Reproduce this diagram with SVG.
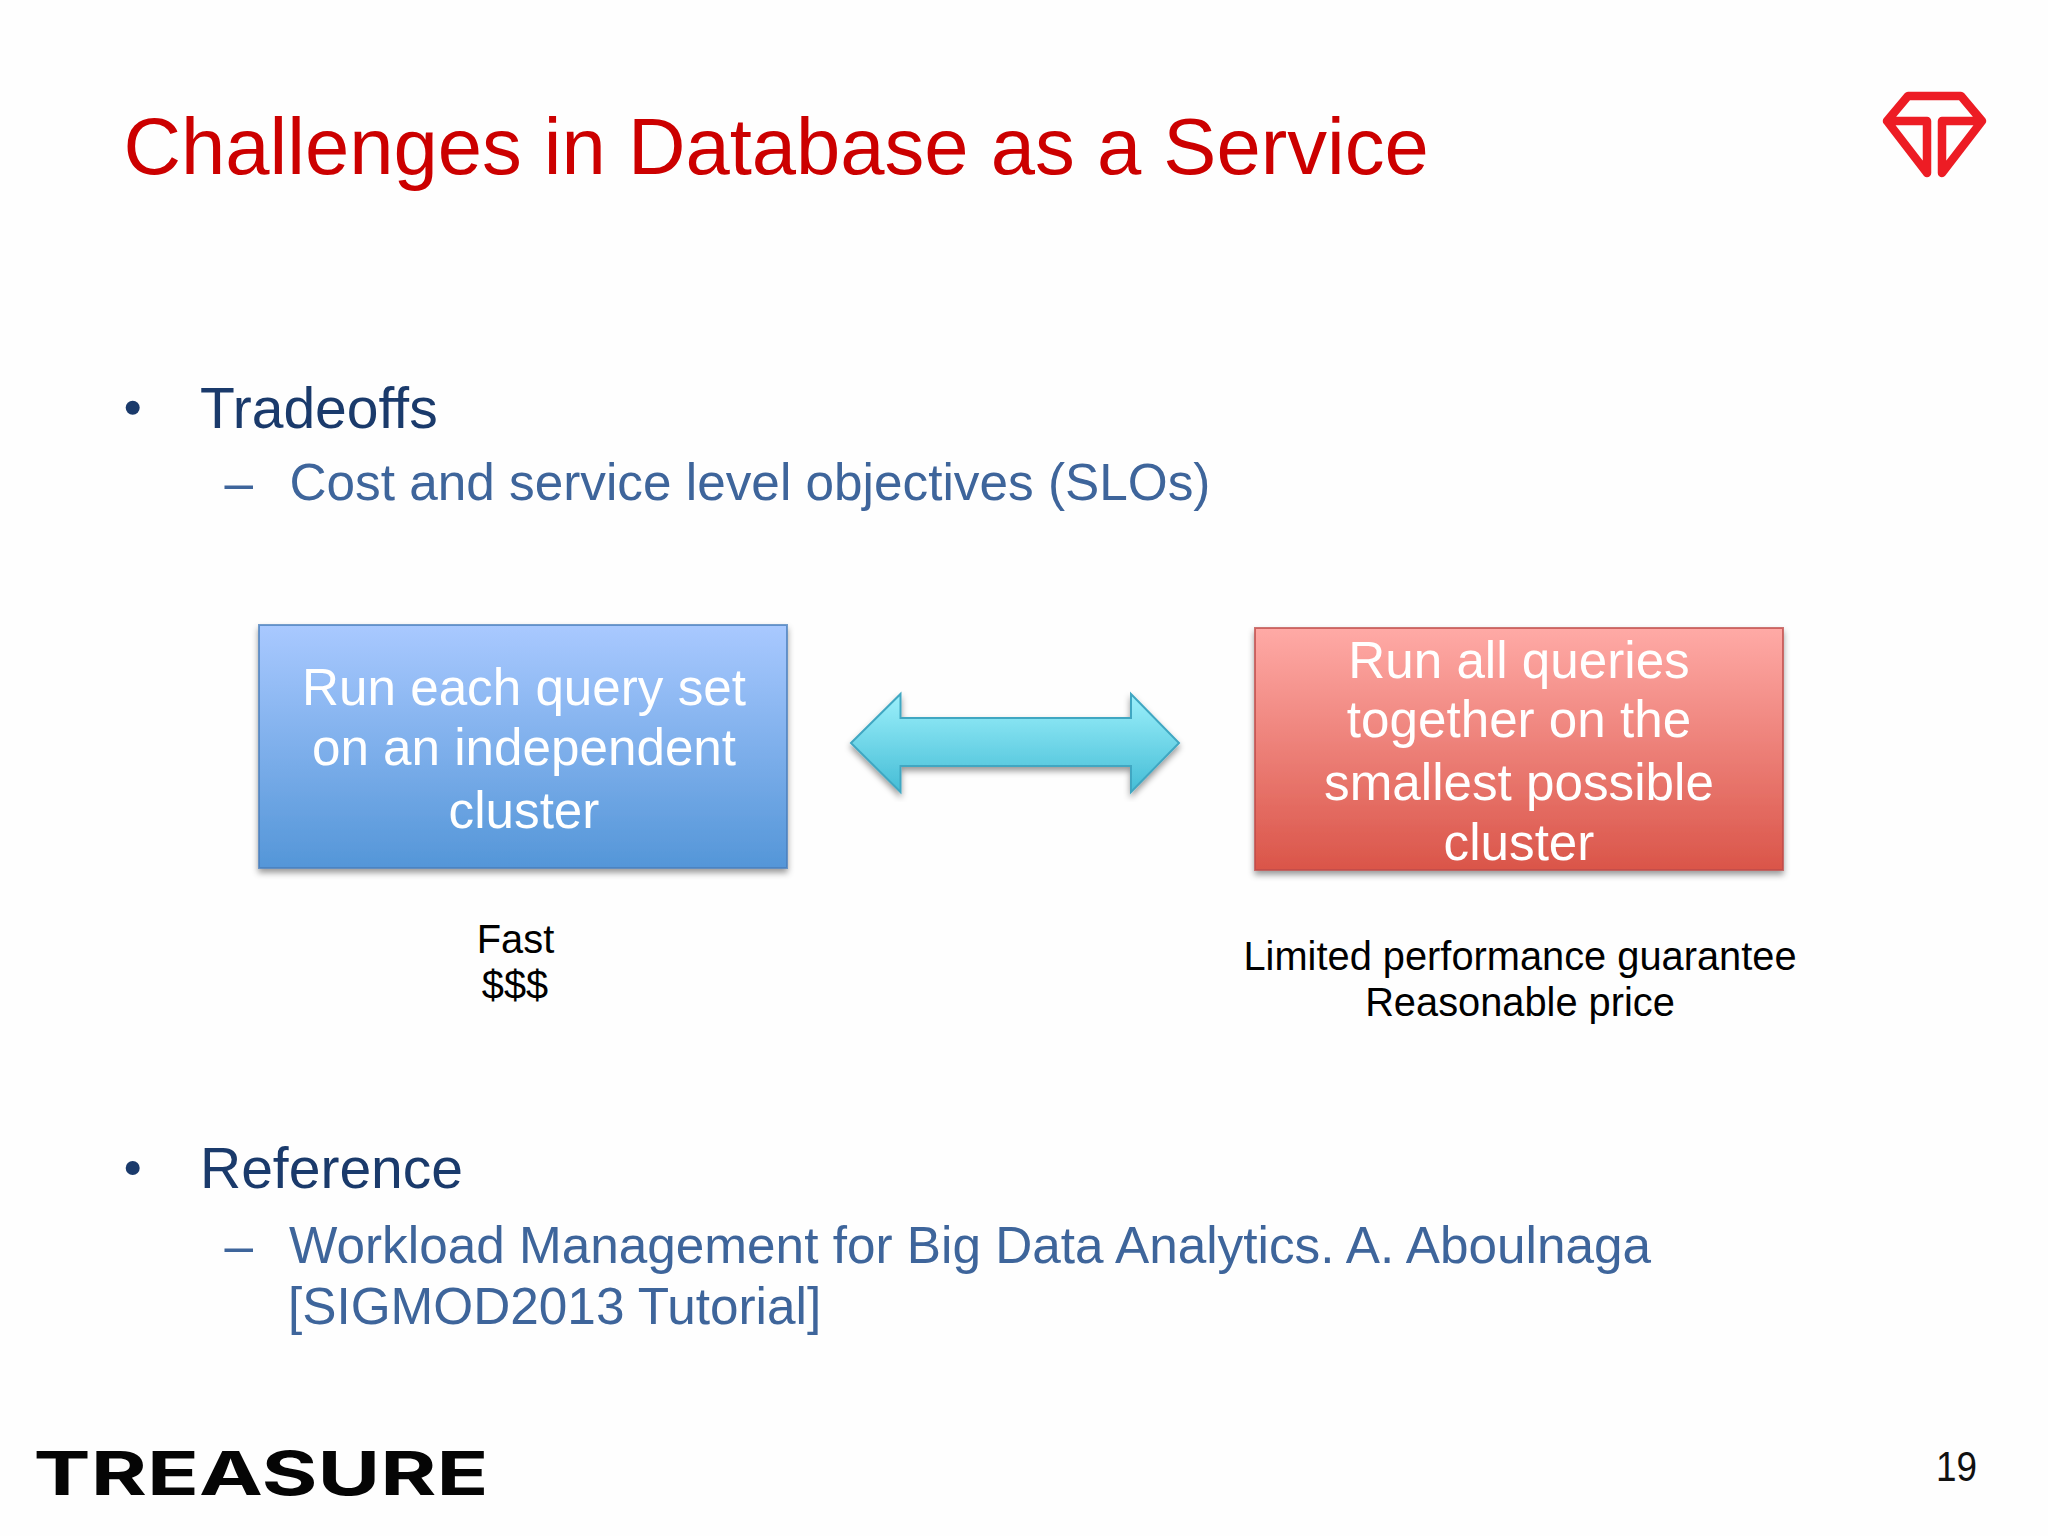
<svg xmlns="http://www.w3.org/2000/svg" width="2048" height="1536" viewBox="0 0 2048 1536">
<style>
text{font-family:"Liberation Sans",Arial,sans-serif}
.h{font-size:57px;fill:#1a3a6b}
.s{font-size:51.300px;fill:#3e659b}
.box{font-size:51.200px;fill:#fff;text-anchor:middle}
.cap{font-size:39.800px;fill:#000;text-anchor:middle}
</style>
<defs>
<linearGradient id="gb" x1="0" y1="0" x2="0" y2="1"><stop offset="0" stop-color="#a9c9ff"/><stop offset="1" stop-color="#5496d8"/></linearGradient>
<linearGradient id="gr" x1="0" y1="0" x2="0" y2="1"><stop offset="0" stop-color="#ffaaa6"/><stop offset="1" stop-color="#da5549"/></linearGradient>
<linearGradient id="gc" x1="0" y1="0" x2="0" y2="1"><stop offset="0" stop-color="#9cf0fb"/><stop offset="1" stop-color="#45bdd6"/></linearGradient>
<filter id="sh" x="-5%" y="-5%" width="110%" height="115%"><feDropShadow dx="0" dy="4" stdDeviation="3" flood-color="#000" flood-opacity=".4"/></filter>
</defs>
<rect width="2048" height="1536" fill="#fefefe"/>
<text id="title" x="123.500" y="174" font-size="79.600" fill="#cc0000">Challenges in Database as a Service</text>
<g id="logo" fill="none" stroke="#ed1c24" stroke-width="8.500" stroke-linejoin="round" stroke-linecap="round">
<path d="M1927 173V121H1887L1908 96H1961L1982 121H1942V173L1982 121M1887 121L1927 173"/>
</g>
<g id="bullets">
<circle cx="132.700" cy="407.700" r="7" fill="#1a3a6b"/>
<text class="h" x="200" y="427.500">Tradeoffs</text>
<text class="s" x="224.500" y="500">–</text>
<text class="s" x="289.500" y="500">Cost and service level objectives (SLOs)</text>
<circle cx="132.700" cy="1168" r="7" fill="#1a3a6b"/>
<text class="h" x="200" y="1187.500">Reference</text>
<text class="s" x="224.500" y="1262.500">–</text>
<text class="s" x="289" y="1262.500">Workload Management for Big Data Analytics. A. Aboulnaga</text>
<text class="s" x="288" y="1324">[SIGMOD2013 Tutorial]</text>
</g>
<g id="node-independent">
<rect x="259" y="625" width="528" height="243" fill="url(#gb)" stroke="#4a7ebb" stroke-opacity=".75" stroke-width="2" filter="url(#sh)"/>
<text class="box" x="524" y="705">Run each query set</text>
<text class="box" x="524" y="765">on an independent</text>
<text class="box" x="524" y="828">cluster</text>
</g>
<g id="node-together">
<rect x="1255" y="628" width="528" height="242" fill="url(#gr)" stroke="#be4b48" stroke-opacity=".75" stroke-width="2" filter="url(#sh)"/>
<text class="box" x="1519" y="678">Run all queries</text>
<text class="box" x="1519" y="737">together on the</text>
<text class="box" x="1519" y="799.500">smallest possible</text>
<text class="box" x="1519" y="859.500">cluster</text>
</g>
<g id="connectors">
<polygon points="851,743 900.500,694 900.500,718 1131,718 1131,694 1179,743 1131,792 1131,766 900.500,766 900.500,792" fill="url(#gc)" stroke="#40a7c2" stroke-width="2" filter="url(#sh)"/>
</g>
<g id="caption-left">
<text class="cap" x="515.500" y="953">Fast</text>
<text class="cap" x="515" y="999">$$$</text>
</g>
<g id="caption-right">
<text class="cap" x="1520" y="970">Limited performance guarantee</text>
<text class="cap" x="1520" y="1016">Reasonable price</text>
</g>
<text id="wordmark" x="33.500" y="1495" font-size="60" font-weight="700" textLength="455" lengthAdjust="spacingAndGlyphs" style="font-family:Inter,sans-serif" fill="#050505">TREASURE</text>
<text id="page" x="1936" y="1481" font-size="43" fill="#111" textLength="41" lengthAdjust="spacingAndGlyphs">19</text>
</svg>
